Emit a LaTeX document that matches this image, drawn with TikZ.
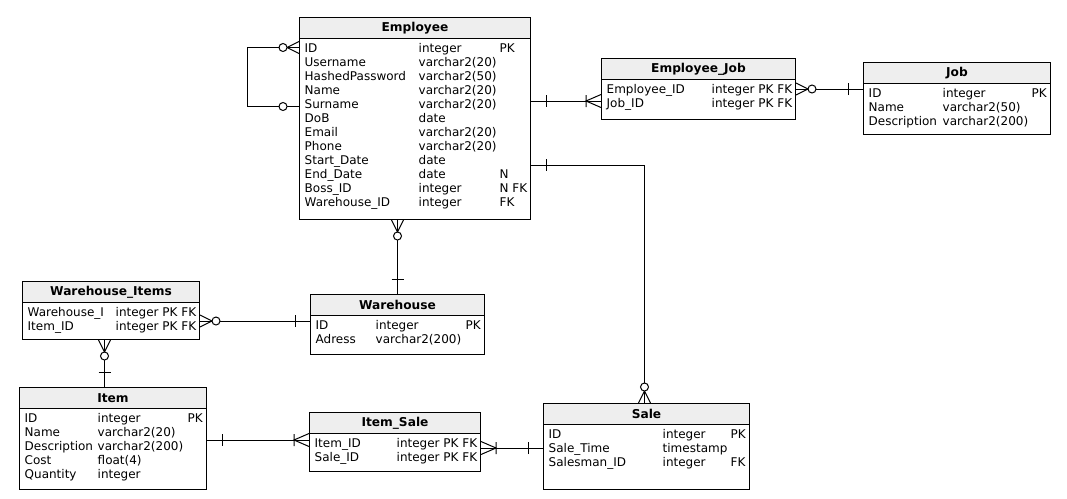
\documentclass[tikz,border=0pt]{standalone}
\usepackage{fontspec}
\setmainfont{DejaVu Sans}
\usepackage{array}
\usetikzlibrary{positioning}
\definecolor{erhead}{HTML}{EEEEEE}
\tikzset{
  pics/erone/.style={code={\draw[line width=1pt] (15,-6) -- (15,6);}},
  pics/erzero/.style={code={\draw[line width=1pt, fill=white] (16,0) circle[radius=4pt];}},
  pics/eronemany/.style={code={\draw[line width=1pt] (0,-6.5) -- (15,0) -- (0,6.5) (15,-6) -- (15,6);}},
  pics/erzeromany/.style={code={\draw[line width=1pt] (0,-6) -- (12,0) -- (0,6);
    \draw[line width=1pt, fill=white] (16,0) circle[radius=4pt];}},
}

\begin{document}
\begin{tikzpicture}[x=1pt, y=-1pt,
  every node/.style={font=\fontsize{12}{14}\selectfont},
  entbox/.style={rectangle, draw, line width=1pt, anchor=north west, inner sep=0pt},
  enthead/.style={rectangle, draw, line width=1pt, fill=erhead, anchor=north west, inner sep=0pt, minimum height=21pt, font=\fontsize{12.2}{14}\selectfont\bfseries},
  entrows/.style={anchor=north west, inner sep=0pt, align=left},
  link/.style={line width=1pt},
]
\useasboundingbox (0,0) rectangle (1067,498);

\node[entbox, minimum width=231pt, minimum height=202pt] (emp) at (299,17) {};
\node[enthead, minimum width=231pt] (emph) at (emp.north west) {Employee};
\node[entrows] (empr) at ([xshift=5.5pt,yshift=-3pt]emph.south west) {\begin{tabular}{@{}p{114pt}@{}p{81pt}@{}l@{}}
ID & integer & PK\\
Username & varchar2(20) & \\
HashedPassword & varchar2(50) & \\
Name & varchar2(20) & \\
Surname & varchar2(20) & \\
DoB & date & \\
Email & varchar2(20) & \\
Phone & varchar2(20) & \\
Start\_Date & date & \\
End\_Date & date & N\\
Boss\_ID & integer & N FK\\
Warehouse\_ID & integer & FK
\end{tabular}};

\node[entbox, minimum width=194pt, minimum height=61pt] (empj) at (601,58) {};
\node[enthead, minimum width=194pt] (empjh) at (empj.north west) {Employee\_Job};
\node[entrows] (empjr) at ([xshift=5.5pt,yshift=-3pt]empjh.south west) {\begin{tabular}{@{}p{105pt}@{}l@{}}
Employee\_ID & integer PK FK\\
Job\_ID & integer PK FK
\end{tabular}};

\node[entbox, minimum width=187pt, minimum height=72pt] (job) at (863,62) {};
\node[enthead, minimum width=187pt] (jobh) at (job.north west) {Job};
\node[entrows] (jobr) at ([xshift=5.5pt,yshift=-3pt]jobh.south west) {\begin{tabular}{@{}p{74pt}@{}p{89pt}@{}l@{}}
ID & integer & PK\\
Name & varchar2(50) & \\
Description & varchar2(200) &
\end{tabular}};

\node[entbox, minimum width=177pt, minimum height=58pt] (wi) at (22,281) {};
\node[enthead, minimum width=177pt] (wih) at (wi.north west) {Warehouse\_Items};
\node[entrows] (wir) at ([xshift=5.5pt,yshift=-3pt]wih.south west) {\begin{tabular}{@{}p{88pt}@{}l@{}}
Warehouse\_I & integer PK FK\\
Item\_ID & integer PK FK
\end{tabular}};

\node[entbox, minimum width=174pt, minimum height=60pt] (wh) at (310,294) {};
\node[enthead, minimum width=174pt] (whh) at (wh.north west) {Warehouse};
\node[entrows] (whr) at ([xshift=5.5pt,yshift=-3pt]whh.south west) {\begin{tabular}{@{}p{60pt}@{}p{90pt}@{}l@{}}
ID & integer & PK\\
Adress & varchar2(200) &
\end{tabular}};

\node[entbox, minimum width=187pt, minimum height=102pt] (item) at (19,387) {};
\node[enthead, minimum width=187pt] (itemh) at (item.north west) {Item};
\node[entrows] (itemr) at ([xshift=5.5pt,yshift=-3pt]itemh.south west) {\begin{tabular}{@{}p{73pt}@{}p{90pt}@{}l@{}}
ID & integer & PK\\
Name & varchar2(20) & \\
Description & varchar2(200) & \\
Cost & float(4) & \\
Quantity & integer &
\end{tabular}};

\node[entbox, minimum width=171pt, minimum height=59pt] (is) at (309,412) {};
\node[enthead, minimum width=171pt] (ish) at (is.north west) {Item\_Sale};
\node[entrows] (isr) at ([xshift=5.5pt,yshift=-3pt]ish.south west) {\begin{tabular}{@{}p{82pt}@{}l@{}}
Item\_ID & integer PK FK\\
Sale\_ID & integer PK FK
\end{tabular}};

\node[entbox, minimum width=206pt, minimum height=86pt] (sale) at (543,403) {};
\node[enthead, minimum width=206pt] (saleh) at (sale.north west) {Sale};
\node[entrows] (saler) at ([xshift=5.5pt,yshift=-3pt]saleh.south west) {\begin{tabular}{@{}p{114pt}@{}p{68pt}@{}l@{}}
ID & integer & PK\\
Sale\_Time & timestamp & \\
Salesman\_ID & integer & FK
\end{tabular}};

\draw[link] ([yshift=-30.5pt]emp.north west) -- ++(-52,0) |- ([yshift=-89.5pt]emp.north west);
\draw[link] ([yshift=-84pt]emp.north east) -- ([yshift=-43pt]empj.north west);
\draw[link] ([yshift=-31pt]empj.north east) -- ([yshift=-27pt]job.north west);
\draw[link] ([yshift=-148pt]emp.north east) -| ([xshift=-2pt]sale.north);
\draw[link] (wh.north |- emp.south) -- (wh.north);
\draw[link] ([yshift=-40pt]wi.north east) -- ([yshift=-27pt]wh.north west);
\draw[link] ([xshift=-6.5pt]wi.south) -- ([xshift=-8.5pt]item.north);
\draw[link] ([yshift=-53pt]item.north east) -- ([yshift=-28pt]is.north west);
\draw[link] ([yshift=-36pt]is.north east) -- ([yshift=-45pt]sale.north west);

\pic[rotate=180] at ([yshift=-30.5pt]emp.north west) {erzeromany};
\pic[rotate=180] at ([yshift=-89.5pt]emp.north west) {erzero};
\pic at ([yshift=-84pt]emp.north east) {erone};
\pic[rotate=180] at ([yshift=-43pt]empj.north west) {eronemany};
\pic at ([yshift=-31pt]empj.north east) {erzeromany};
\pic[rotate=180] at ([yshift=-27pt]job.north west) {erone};
\pic at ([yshift=-148pt]emp.north east) {erone};
\pic[rotate=90] at ([xshift=-2pt]sale.north) {erzeromany};
\pic[rotate=-90] at (wh.north |- emp.south) {erzeromany};
\pic[rotate=90] at (wh.north) {erone};
\pic at ([yshift=-40pt]wi.north east) {erzeromany};
\pic[rotate=180] at ([yshift=-27pt]wh.north west) {erone};
\pic[rotate=-90] at ([xshift=-6.5pt]wi.south) {erzeromany};
\pic[rotate=90] at ([xshift=-8.5pt]item.north) {erone};
\pic at ([yshift=-53pt]item.north east) {erone};
\pic[rotate=180] at ([yshift=-28pt]is.north west) {eronemany};
\pic at ([yshift=-36pt]is.north east) {eronemany};
\pic[rotate=180] at ([yshift=-45pt]sale.north west) {erone};
\end{tikzpicture}
\end{document}
